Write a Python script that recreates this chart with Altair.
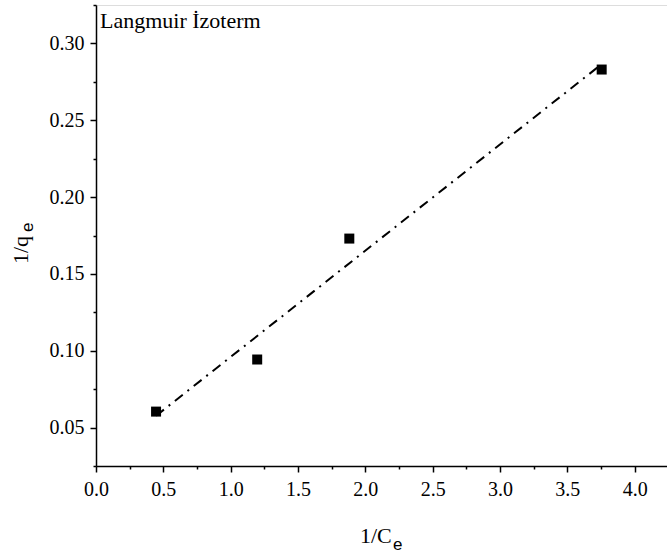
import altair as alt
import pandas as pd

# Langmuir isotherm linearisation: 1/Ce vs 1/qe
inv_ce = [0.446, 1.197, 1.881, 3.755]
inv_qe = [0.0604, 0.0943, 0.173, 0.283]

x_major = [0.0, 0.5, 1.0, 1.5, 2.0, 2.5, 3.0, 3.5, 4.0]
x_minor = [0.25, 0.75, 1.25, 1.75, 2.25, 2.75, 3.25, 3.75, 4.25]
y_major = [0.05, 0.10, 0.15, 0.20, 0.25, 0.30]
y_minor = [0.025, 0.075, 0.125, 0.175, 0.225, 0.275, 0.325]

df = pd.DataFrame({"x": inv_ce, "y": inv_qe})

FONT = "Liberation Serif"
SUB_FONT = "Liberation Sans"
W, H = 571, 461

xs = alt.Scale(domain=[0, 4.24], nice=False, zero=False)
ys = alt.Scale(domain=[0.025, 0.325], nice=False, zero=False)

axis_common = dict(
    domainColor="black", domainWidth=1.5, tickColor="black", tickWidth=1.5,
    grid=False, labelFont=FONT, labelFontSize=20, labelColor="black",
    labelFlush=False, labelOverlap=False, title=None,
)

x_axis = alt.Axis(orient="bottom", values=x_major, format=".1f", tickSize=6,
                  labelPadding=7, **axis_common)
y_axis = alt.Axis(orient="left", values=y_major, format=".2f", tickSize=6,
                  labelPadding=6, **axis_common)
x_axis_minor = alt.Axis(orient="bottom", values=x_minor, tickSize=3, labels=False,
                        domain=False, tickColor="black", tickWidth=1.5, grid=False, title=None)
y_axis_minor = alt.Axis(orient="left", values=y_minor, tickSize=3, labels=False,
                        domain=False, tickColor="black", tickWidth=1.5, grid=False, title=None)

base = alt.Chart(df)

points = base.mark_square(size=100, color="black", opacity=1).encode(
    x=alt.X("x:Q", scale=xs, axis=x_axis),
    y=alt.Y("y:Q", scale=ys, axis=y_axis),
)

fit = base.transform_regression("x", "y").mark_line(
    color="black", strokeWidth=2, strokeDash=[10, 6, 2, 6]
).encode(
    x=alt.X("x:Q", scale=xs, axis=x_axis_minor),
    y=alt.Y("y:Q", scale=ys, axis=y_axis_minor),
)

one = alt.Chart(pd.DataFrame({"t": [0]}))

label = one.mark_text(font=FONT, fontSize=22, align="left", baseline="alphabetic",
                      color="black").encode(
    x=alt.value(4), y=alt.value(23), text=alt.value("Langmuir İzoterm"))

xt_main = one.mark_text(font=FONT, fontSize=22, align="left", baseline="alphabetic",
                        color="black").encode(
    x=alt.value(264), y=alt.value(538), text=alt.value("1/C"))
xt_sub = one.mark_text(font=SUB_FONT, fontSize=17, align="left", baseline="alphabetic",
                       color="black").encode(
    x=alt.value(297), y=alt.value(545), text=alt.value("e"))

yt_main = one.mark_text(font=FONT, fontSize=22, align="left", baseline="alphabetic",
                        color="black", angle=270).encode(
    x=alt.value(-68), y=alt.value(259), text=alt.value("1/q"))
yt_sub = one.mark_text(font=SUB_FONT, fontSize=17, align="left", baseline="alphabetic",
                       color="black", angle=270).encode(
    x=alt.value(-63), y=alt.value(227), text=alt.value("e"))

chart = alt.layer(points, fit, label, xt_main, xt_sub, yt_main, yt_sub).resolve_axis(
    x="independent", y="independent"
).properties(
    width=W, height=H,
    padding={"left": 96, "top": 5, "right": 0, "bottom": 92},
    autosize=alt.AutoSizeParams(type="none"),
).configure_view(stroke=None).configure(background="white")

chart.save("out.html", embed_options={"renderer": "svg", "actions": False})
